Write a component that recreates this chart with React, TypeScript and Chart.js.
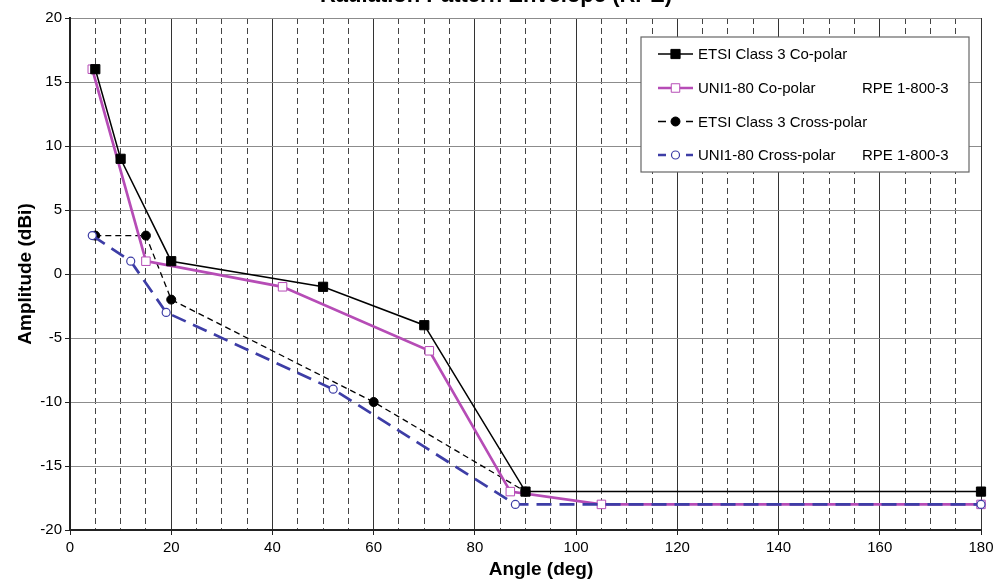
import React, { useEffect, useRef } from 'react';
import { Chart, registerables } from 'chart.js';

Chart.register(...registerables);

const chartTitle = 'Radiation Pattern Envelope (RPE)';
const xAxisTitle = 'Angle (deg)';
const yAxisTitle = 'Amplitude (dBi)';

const etsiCoAngles = [5, 10, 20, 50, 70, 90, 180];
const etsiCoValues = [16, 9, 1, -1, -4, -17, -17];

const uniCoAngles = [4.4, 15, 42, 71, 87, 105, 180];
const uniCoValues = [16, 1, -1, -6, -17, -18, -18];

const etsiCrossAngles = [5, 15, 20, 60, 90];
const etsiCrossValues = [3, 3, -2, -10, -17];

const uniCrossAngles = [4.4, 12, 19, 52, 88, 180];
const uniCrossValues = [3, 1, -3, -9, -18, -18];

const seriesLabels = [
  'ETSI Class 3 Co-polar',
  'UNI1-80 Co-polar',
  'ETSI Class 3 Cross-polar',
  'UNI1-80 Cross-polar',
];
const seriesNotes = ['', 'RPE 1-800-3', '', 'RPE 1-800-3'];

const FONT = '"Liberation Sans", Arial, sans-serif';
const PINK = '#B64CB6';
const BLUE = '#3D3DA6';

const toPoints = (xs: number[], ys: number[]) => xs.map((x, i) => ({ x, y: ys[i] }));

const titlePlugin = {
  id: 'clippedTitle',
  afterDraw(chart: any) {
    const ctx = chart.ctx;
    ctx.save();
    ctx.font = `bold 22px ${FONT}`;
    ctx.fillStyle = '#000';
    ctx.textAlign = 'center';
    ctx.textBaseline = 'alphabetic';
    ctx.fillText(chartTitle, 496, 2);
    // x axis title (offset right of the plot centre, as in the reference)
    ctx.font = `bold 19px ${FONT}`;
    ctx.textBaseline = 'middle';
    ctx.fillText(xAxisTitle, 541, 570);
    ctx.restore();
  },
};

function drawMarker(ctx: CanvasRenderingContext2D, ds: any, x: number, y: number) {
  const r = ds.pointRadius;
  ctx.save();
  ctx.setLineDash([]);
  ctx.lineWidth = ds.pointBorderWidth;
  ctx.strokeStyle = ds.pointBorderColor;
  ctx.fillStyle = ds.pointBackgroundColor;
  ctx.beginPath();
  if (ds.pointStyle === 'rect') {
    const s = Math.SQRT1_2 * r;
    ctx.rect(x - s, y - s, 2 * s, 2 * s);
  } else {
    ctx.arc(x, y, r, 0, Math.PI * 2);
  }
  ctx.fill();
  ctx.stroke();
  ctx.restore();
}

const legendPlugin = {
  id: 'boxLegend',
  afterDraw(chart: any) {
    const ctx = chart.ctx;
    const area = chart.chartArea;
    const right = area.right - 12;
    const left = right - 328;
    const top = area.top + 19;
    const height = 135;
    ctx.save();
    ctx.fillStyle = '#fff';
    ctx.fillRect(left, top, right - left, height);
    ctx.strokeStyle = '#666';
    ctx.lineWidth = 1.2;
    ctx.strokeRect(left, top, right - left, height);
    const rowYs = [17, 51, 84.5, 118];
    [0, 1, 2, 3].forEach((i) => {
      const ds = chart.data.datasets[i];
      const y = top + rowYs[i];
      const x0 = left + 17;
      const x1 = left + 52;
      ctx.save();
      ctx.strokeStyle = ds.borderColor;
      ctx.lineWidth = ds.borderWidth;
      ctx.setLineDash(ds.borderDash && ds.borderDash.length ? [8, 6] : []);
      ctx.beginPath();
      ctx.moveTo(x0, y);
      ctx.lineTo(x1, y);
      ctx.stroke();
      ctx.restore();
      drawMarker(ctx, ds, (x0 + x1) / 2, y);
      ctx.fillStyle = '#000';
      ctx.font = `15px ${FONT}`;
      ctx.textAlign = 'left';
      ctx.textBaseline = 'middle';
      ctx.fillText(seriesLabels[i], left + 57, y + 1);
      if (seriesNotes[i]) ctx.fillText(seriesNotes[i], left + 221, y + 1);
    });
    ctx.restore();
  },
};

export default function App() {
  const canvasRef = useRef<HTMLCanvasElement | null>(null);

  useEffect(() => {
    if (!canvasRef.current) return;
    const chart = new Chart(canvasRef.current, {
      type: 'line',
      data: {
        datasets: [
          {
            label: seriesLabels[0],
            data: toPoints(etsiCoAngles, etsiCoValues),
            borderColor: '#000',
            borderWidth: 1.5,
            pointStyle: 'rect',
            pointRadius: 6.5,
            pointBackgroundColor: '#000',
            pointBorderColor: '#000',
            pointBorderWidth: 1,
            order: 2,
            clip: false,
          },
          {
            label: seriesLabels[1],
            data: toPoints(uniCoAngles, uniCoValues),
            borderColor: PINK,
            borderWidth: 2.7,
            pointStyle: 'rect',
            pointRadius: 6,
            pointBackgroundColor: '#fff',
            pointBorderColor: PINK,
            pointBorderWidth: 1,
            order: 3,
            clip: false,
          },
          {
            label: seriesLabels[2],
            data: toPoints(etsiCrossAngles, etsiCrossValues),
            borderColor: '#000',
            borderWidth: 1.3,
            borderDash: [6, 4],
            pointStyle: 'circle',
            pointRadius: 4.5,
            pointBackgroundColor: '#000',
            pointBorderColor: '#000',
            pointBorderWidth: 1,
            order: 4,
            clip: false,
          },
          {
            label: seriesLabels[3],
            data: toPoints(uniCrossAngles, uniCrossValues),
            borderColor: BLUE,
            borderWidth: 2.7,
            borderDash: [15, 8],
            pointStyle: 'circle',
            pointRadius: 4,
            pointBackgroundColor: '#fff',
            pointBorderColor: BLUE,
            pointBorderWidth: 1.2,
            order: 1,
            clip: false,
          },
        ] as any,
      },
      options: {
        animation: false,
        responsive: false,
        devicePixelRatio: 1,
        layout: { padding: { top: 18, right: 12, left: 0, bottom: 0 } },
        elements: { line: { tension: 0 } },
        plugins: {
          legend: { display: false },
          title: { display: false },
          tooltip: { enabled: false },
        },
        scales: {
          x: {
            type: 'linear',
            position: 'bottom',
            min: 0,
            max: 180,
            ticks: {
              stepSize: 20,
              color: '#000',
              font: { family: FONT, size: 15 },
              padding: 4,
              maxRotation: 0,
            },
            grid: { color: '#333', lineWidth: 1, tickLength: 5, tickColor: '#222' },
            border: { color: '#222', width: 2 },
            title: { display: false },
            afterFit: (scale: any) => {
              scale.height = 53;
              scale.paddingRight = 0;
              scale.paddingLeft = 0;
            },
          },
          x2: {
            type: 'linear',
            position: 'top',
            min: 0,
            max: 180,
            ticks: { stepSize: 5, display: false },
            grid: {
              color: (ctx: any) => (ctx.tick && ctx.tick.value % 20 === 0 ? 'rgba(0,0,0,0)' : '#444'),
              lineWidth: 1,
              drawTicks: false,
            },
            border: { display: false, dash: [6, 4] },
            afterFit: (scale: any) => {
              scale.height = 0;
              scale.paddingRight = 0;
              scale.paddingLeft = 0;
            },
          },
          y: {
            type: 'linear',
            min: -20,
            max: 20,
            ticks: {
              stepSize: 5,
              color: '#000',
              font: { family: FONT, size: 15 },
              padding: 3,
            },
            grid: { color: '#8c8c8c', lineWidth: 1, tickLength: 5, tickColor: '#222' },
            border: { color: '#222', width: 2 },
            title: {
              display: true,
              text: yAxisTitle,
              color: '#000',
              font: { family: FONT, size: 19, weight: 'bold' },
              padding: { top: 14, bottom: 0 },
            },
            afterFit: (scale: any) => {
              scale.width = 70;
              scale.paddingTop = 0;
              scale.paddingBottom = 0;
            },
          },
        },
      } as any,
      plugins: [titlePlugin, legendPlugin],
    });
    return () => chart.destroy();
  }, []);

  return (
    <div style={{ position: 'fixed', left: 0, top: 0, width: 993, height: 583, background: '#fff' }}>
      <canvas ref={canvasRef} width={993} height={583} style={{ display: 'block' }} />
    </div>
  );
}
